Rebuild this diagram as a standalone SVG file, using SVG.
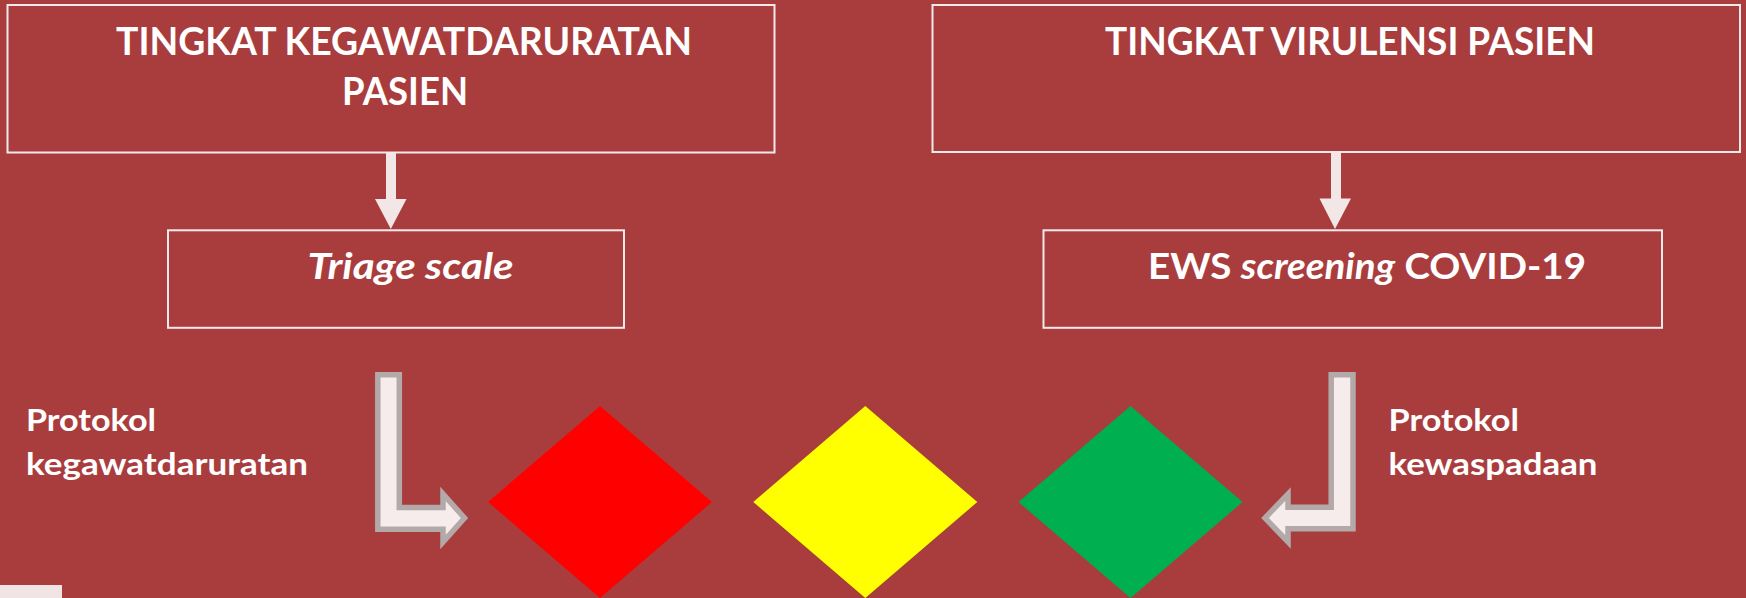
<svg xmlns="http://www.w3.org/2000/svg" width="1746" height="598" viewBox="0 0 1746 598">
<style>
.box{fill:none;stroke:#f4e9e9;stroke-width:2}
.t{font-family:Lato,"Open Sans","Liberation Sans",sans-serif;font-weight:bold;fill:#ffffff}
.title{font-size:39px}
.sub{font-size:37px}
.lbl{font-size:31px}
.arr{fill:#f2e6e6}
.bent{fill:#f7ecec;stroke:#b3a9a9;stroke-width:5.5;stroke-linejoin:miter}
</style>
<rect x="0" y="0" width="1746" height="598" fill="#a93d3d"/>
<g id="connectors">
<path class="arr" d="M386,152 L396,152 L396,199 L406.5,199 L390.8,229 L375,199 L386,199 Z"/>
<path class="arr" d="M1331,152 L1341,152 L1341,198.5 L1351,198.5 L1335,229 L1319.5,198.5 L1331,198.5 Z"/>
<path class="bent" d="M377.8,374.8 L399.3,374.8 L399.3,507.5 L443,507.5 L443,494 L464.5,518 L443,542 L443,529.2 L377.8,529.2 Z"/>
<path class="bent" d="M1353,374.8 L1331.2,374.8 L1331.2,507.3 L1288,507.3 L1288,494 L1265,518 L1288,542 L1288,528.7 L1353,528.7 Z"/>
</g>
<g id="node-kegawatdaruratan">
<rect class="box" x="7.5" y="5" width="767" height="147.5"/>
<text class="t title" x="116" y="55" textLength="576" lengthAdjust="spacingAndGlyphs">TINGKAT KEGAWATDARURATAN</text>
<text class="t title" x="342" y="105" textLength="126" lengthAdjust="spacingAndGlyphs">PASIEN</text>
</g>
<g id="node-virulensi">
<rect class="box" x="932.5" y="5" width="807.5" height="147"/>
<text class="t title" x="1105" y="55" textLength="490" lengthAdjust="spacingAndGlyphs">TINGKAT VIRULENSI PASIEN</text>
</g>
<g id="node-triage">
<rect class="box" x="168" y="230.3" width="456" height="97.5"/>
<text class="t sub" x="307.5" y="279" font-style="italic" textLength="206" lengthAdjust="spacingAndGlyphs">Triage scale</text>
</g>
<g id="node-ews">
<rect class="box" x="1043.5" y="230.3" width="618.5" height="97.5"/>
<text class="t sub" x="1148" y="279" textLength="438" lengthAdjust="spacingAndGlyphs">EWS <tspan font-style="italic">screening</tspan> COVID-19</text>
</g>
<g id="node-protokol-kegawatdaruratan">
<text class="t lbl" x="26" y="431" textLength="130" lengthAdjust="spacingAndGlyphs">Protokol</text>
<text class="t lbl" x="26" y="474.5" textLength="282" lengthAdjust="spacingAndGlyphs">kegawatdaruratan</text>
</g>
<g id="node-protokol-kewaspadaan">
<text class="t lbl" x="1388.5" y="430.5" textLength="130.5" lengthAdjust="spacingAndGlyphs">Protokol</text>
<text class="t lbl" x="1388.5" y="475" textLength="209" lengthAdjust="spacingAndGlyphs">kewaspadaan</text>
</g>
<g id="node-red">
<polygon points="600,406 712,502 600,598 488,502" fill="#ff0000"/>
</g>
<g id="node-yellow">
<polygon points="865.3,406 977.3,502 865.3,598 753.3,502" fill="#ffff00"/>
</g>
<g id="node-green">
<polygon points="1130.5,406 1242.5,502 1130.5,598 1018.5,502" fill="#00b050"/>
</g>
<rect x="0" y="585" width="62" height="13" fill="#f1e4e4"/>
</svg>
